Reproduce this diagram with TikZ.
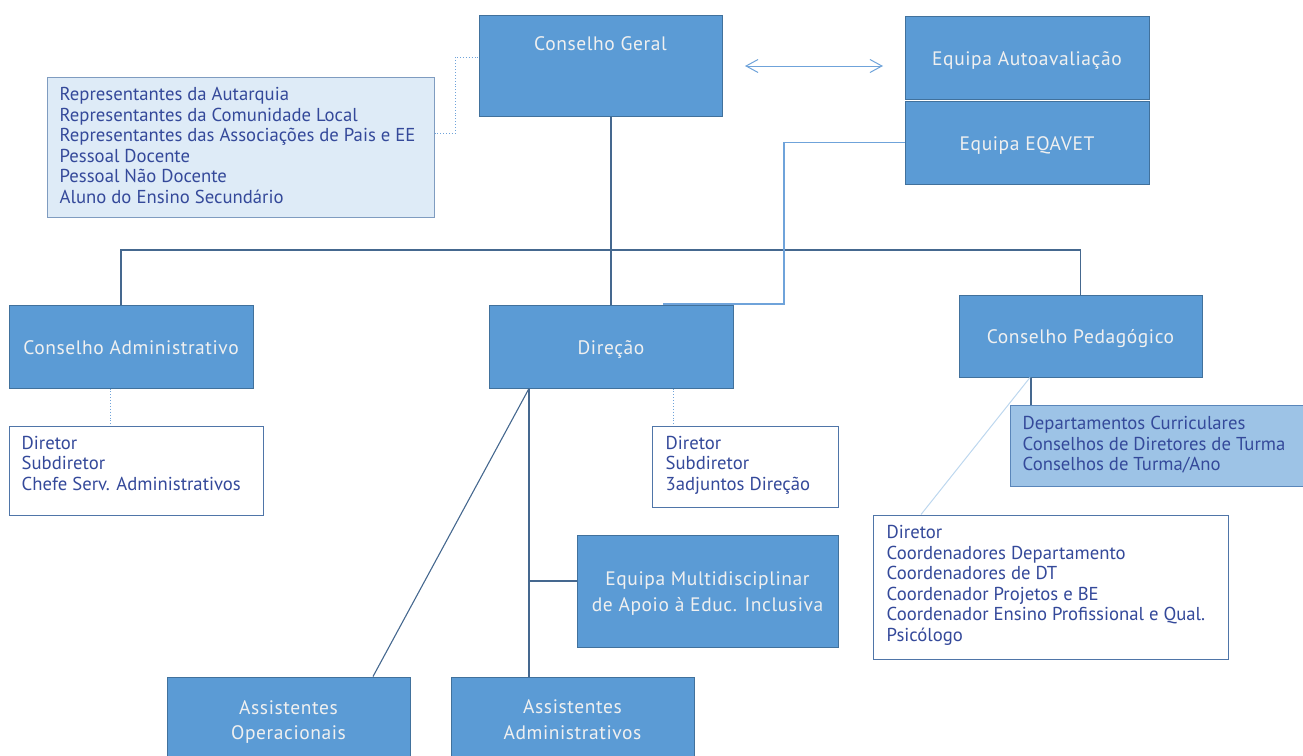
\documentclass[tikz,border=0pt]{standalone}
\usepackage{fontspec}
\setmainfont{PT Sans}
\newfontfamily\titlefam[LetterSpace=3]{PT Sans}
\usetikzlibrary{arrows.meta}
\definecolor{boxblue}{HTML}{5B9BD5}
\definecolor{boxedge}{HTML}{41719C}
\definecolor{lightfill}{HTML}{DEEBF7}
\definecolor{lightedge}{HTML}{7F9CC0}
\definecolor{midfill}{HTML}{9DC3E6}
\definecolor{midedge}{HTML}{5A86BA}
\definecolor{listedge}{HTML}{4F75A8}
\definecolor{listtext}{HTML}{34499A}
\definecolor{darkline}{HTML}{45688F}
\definecolor{lightline}{HTML}{6FA3DA}
\definecolor{paleline}{HTML}{BDD7EE}
\newcommand\mytitlefont{\titlefam\fontsize{19.5}{25.5}\selectfont}
\newcommand\mylistfont{\fontsize{18.7}{20.6}\selectfont}
\begin{document}
\begin{tikzpicture}[x=1pt,y=-1pt,
  plainbox/.style={draw=boxedge, fill=boxblue, line width=1pt, inner sep=0pt},
  bluebox/.style={plainbox, text=white!94!black, font=\mytitlefont, align=center,
    execute at begin node={\rule{0pt}{20pt}},
    execute at end node={\rule[-5pt]{0pt}{5pt}}},
  boxtxt/.style={inner sep=0pt, text=white!94!black, font=\mytitlefont, align=center},
  replist/.style={draw=lightedge, fill=lightfill, line width=1pt, inner sep=0pt},
  deplist/.style={draw=midedge, fill=midfill, line width=1pt, inner sep=0pt},
  whitelist/.style={draw=listedge, fill=white, line width=1pt, inner sep=0pt},
  listtxt/.style={anchor=base west, inner sep=0pt, align=left, text=listtext, font=\mylistfont},
  darkconn/.style={draw=darkline, line width=1.1pt},
  lightconn/.style={draw=lightline, line width=1.1pt},
  paleconn/.style={draw=paleline, line width=1pt},
  dotconn/.style={draw=lightline, line width=0.9pt, dotted},
  arrowconn/.style={draw=lightline, line width=1pt, {Straight Barb[length=12pt,width=13pt]}-{Straight Barb[length=12pt,width=13pt]}}
]
\useasboundingbox (0,0) rectangle (1303,755);
\clip (0,0) rectangle (1303,755);

% top boxes
\node[plainbox, minimum width=243, minimum height=101] (cg) at (600.5,65.5) {};
\node[boxtxt] (cgtxt) at (600.5,44) {Conselho Geral};
\node[bluebox, minimum width=244, minimum height=83] (ea) at (1027,57.5) {Equipa Autoavaliação};
\node[bluebox, minimum width=244, minimum height=83] (eq) at (1027,142.5) {Equipa EQAVET};

% representatives list (anchor = baseline of last line)
\node[replist, minimum width=387, minimum height=140] (rep) at (240.5,147) {};
\node[listtxt] (reptxt) at ([xshift=13pt,yshift=-127pt]rep.north west)
  {Representantes da Autarquia\\Representantes da Comunidade Local\\Representantes das Associações de Pais e EE\\Pessoal Docente\\Pessoal Não Docente\\Aluno do Ensino Secundário};

% second row
\node[bluebox, minimum width=244, minimum height=83] (ca) at (131,346.5) {Conselho Administrativo};
\node[bluebox, minimum width=244, minimum height=83] (dir) at (611,346.5) {Direção};
\node[bluebox, minimum width=243, minimum height=82] (cp) at (1080.5,336) {Conselho Pedagógico};

% lists
\node[whitelist, minimum width=254, minimum height=89] (calist) at (136,470.5) {};
\node[listtxt] (calisttxt) at ([xshift=13pt,yshift=-65pt]calist.north west)
  {Diretor\\Subdiretor\\Chefe Serv. Administrativos};
\node[whitelist, minimum width=186, minimum height=81] (dirlist) at (745,466.5) {};
\node[listtxt] (dirlisttxt) at ([xshift=14pt,yshift=-65pt]dirlist.north west)
  {Diretor\\Subdiretor\\3adjuntos Direção};
\node[deplist, minimum width=296, minimum height=81] (dep) at (1158,445.5) {};
\node[listtxt] (deptxt) at ([xshift=13pt,yshift=-66.2pt]dep.north west)
  {Departamentos Curriculares\\Conselhos de Diretores de Turma\\Conselhos de Turma/Ano};
\node[whitelist, minimum width=355, minimum height=144] (cplist) at (1050.5,587) {};
\node[listtxt] (cplisttxt) at ([xshift=14pt,yshift=-127pt]cplist.north west)
  {Diretor\\Coordenadores Departamento\\Coordenadores de DT\\Coordenador Projetos e BE\\Coordenador Ensino Profissional e Qual.\\Psicólogo};

% lower boxes
\node[plainbox, minimum width=261, minimum height=112] (em) at (707.5,591) {};
\node[boxtxt] (emtxt) at ([yshift=-2.5pt]em.center)
  {Equipa Multidisciplinar\\de Apoio à Educ. Inclusiva};
\node[plainbox, minimum width=243, minimum height=85] (ao) at (288.5,719.5) {};
\node[boxtxt] (aotxt) at ([yshift=-2.5pt]ao.center) {Assistentes\\Operacionais};
\node[plainbox, minimum width=243, minimum height=85] (aa) at (572.5,719.5) {};
\node[boxtxt] (aatxt) at ([yshift=-0.3pt]aa.center) {Assistentes\\Administrativos};

% connectors
\coordinate (arrL) at (745,66);
\coordinate (arrR) at (883,66);
\draw[arrowconn] (arrL) -- (arrR);
\draw[dotconn] ([yshift=14pt]rep.east) -- ++(21,0) |- ([yshift=8.5pt]cg.west);
\draw[darkconn] (dir.north |- cg.south) -- (dir.north);
\coordinate (bus) at (0,250);
\draw[darkconn] ([xshift=-10pt]ca.north) |- (bus -| cp.north) -- (cp.north);
\coordinate (eqbend) at (784,142.5);
\draw[lightconn] (eq.west) -- (eqbend) |- ([xshift=52pt,yshift=0.5pt]dir.north);
\draw[dotconn] ([xshift=-21pt]ca.south) -- ([xshift=-21pt]ca.south |- calist.north);
\draw[dotconn] ([xshift=62pt]dir.south) -- ([xshift=62pt]dir.south |- dirlist.north);
\draw[darkconn] ([xshift=-49.5pt]cp.south) -- ([xshift=-49.5pt]cp.south |- dep.north);
\draw[paleconn] ([xshift=-50.5pt]cp.south) -- ([xshift=-129.5pt]cplist.north);
\coordinate (dirfoot) at ([xshift=-82pt]dir.south);
\draw[darkconn] (dirfoot) -- ([xshift=84.5pt]ao.north);
\draw[darkconn] (dirfoot) -- (dirfoot |- aa.north);
\draw[darkconn] ([yshift=10pt]em.west) -| (dirfoot);
\end{tikzpicture}
\end{document}
